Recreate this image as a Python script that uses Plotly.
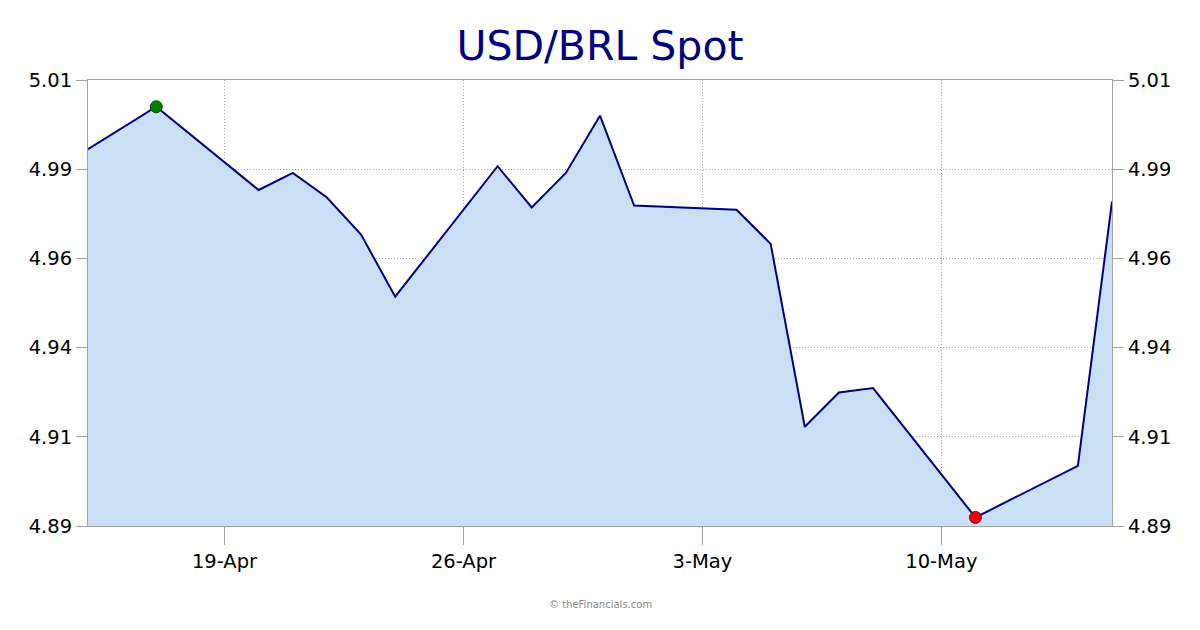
import plotly.graph_objects as go

dates = ["2026-04-15", "2026-04-17", "2026-04-20", "2026-04-21", "2026-04-22",
         "2026-04-23", "2026-04-24", "2026-04-27", "2026-04-28", "2026-04-29",
         "2026-04-30", "2026-05-01", "2026-05-04", "2026-05-05", "2026-05-06",
         "2026-05-07", "2026-05-08", "2026-05-11", "2026-05-14", "2026-05-15"]
rates = [4.9914, 5.0028, 4.9804, 4.9850, 4.9784,
         4.9684, 4.9517, 4.9868, 4.9757, 4.9850,
         5.0004, 4.9762, 4.9751, 4.9659, 4.9167,
         4.9259, 4.9271, 4.8923, 4.9062, 4.9773]

x_tick_vals = ["2026-04-19", "2026-04-26", "2026-05-03", "2026-05-10"]
x_tick_text = ["19-Apr", "26-Apr", "3-May", "10-May"]
y_tick_vals = [4.89, 4.914, 4.938, 4.962, 4.986, 5.01]
y_tick_text = ["4.89", "4.91", "4.94", "4.96", "4.99", "5.01"]
y_range = [4.89, 5.01]
x_range = ["2026-04-15", "2026-05-15"]

i_max = rates.index(max(rates))
i_min = rates.index(min(rates))

fig = go.Figure()
fig.add_trace(go.Scatter(
    x=dates, y=rates, mode="lines",
    line=dict(color="#000080", width=2),
    fill="tozeroy", fillcolor="#c9dff5",
    hoverinfo="x+y", showlegend=False,
))
fig.add_trace(go.Scatter(
    x=[dates[i_max]], y=[rates[i_max]], mode="markers",
    marker=dict(color="#008000", size=12, line=dict(color="#004d00", width=1)),
    showlegend=False,
))
fig.add_trace(go.Scatter(
    x=[dates[i_min]], y=[rates[i_min]], mode="markers",
    marker=dict(color="#e8000b", size=12, line=dict(color="#8b0000", width=1)),
    showlegend=False,
))
# invisible trace for right axis
fig.add_trace(go.Scatter(
    x=[dates[0]], y=[rates[0]], yaxis="y2", mode="markers",
    marker=dict(opacity=0), showlegend=False, hoverinfo="skip",
))

tick_font = dict(family="DejaVu Sans, Verdana, sans-serif", size=19.5, color="#000000")

fig.update_layout(
    width=1200, height=630,
    margin=dict(l=80, r=96, t=72, b=112),
    paper_bgcolor="white", plot_bgcolor="white",
    title=dict(text="USD/BRL Spot", x=0.5, xanchor="center", xref="paper",
               y=0.941, yanchor="middle",
               font=dict(family="DejaVu Sans, Tahoma, sans-serif", size=41, color="#000080")),
    xaxis=dict(
        type="date", range=x_range,
        tickvals=x_tick_vals, ticktext=x_tick_text,
        showgrid=True, gridcolor="#a8a8a8", griddash="1px,2px", gridwidth=1,
        showline=True, linecolor="#a0a0a0", linewidth=1, mirror=True,
        ticks="outside", ticklen=18, tickcolor="#a0a0a0",
        tickfont=tick_font, zeroline=False,
    ),
    yaxis=dict(
        range=y_range, tickvals=y_tick_vals, ticktext=y_tick_text,
        showgrid=True, gridcolor="#a8a8a8", griddash="1px,2px", gridwidth=1,
        showline=True, linecolor="#a0a0a0", linewidth=1,
        ticks="outside", ticklen=11, tickcolor="#a0a0a0",
        tickfont=tick_font, zeroline=False,
    ),
    yaxis2=dict(
        range=y_range, tickvals=y_tick_vals, ticktext=y_tick_text,
        overlaying="y", side="right", showgrid=False,
        showline=True, linecolor="#a0a0a0", linewidth=1,
        ticks="outside", ticklen=11, tickcolor="#a0a0a0",
        tickfont=tick_font, zeroline=False,
    ),
    annotations=[dict(
        text="© theFinancials.com", xref="paper", yref="paper",
        x=0.5, y=-0.175, xanchor="center", yanchor="middle", showarrow=False,
        font=dict(family="DejaVu Sans, Verdana, sans-serif", size=10, color="#888888"),
    )],
)

fig.write_html("out.html")
